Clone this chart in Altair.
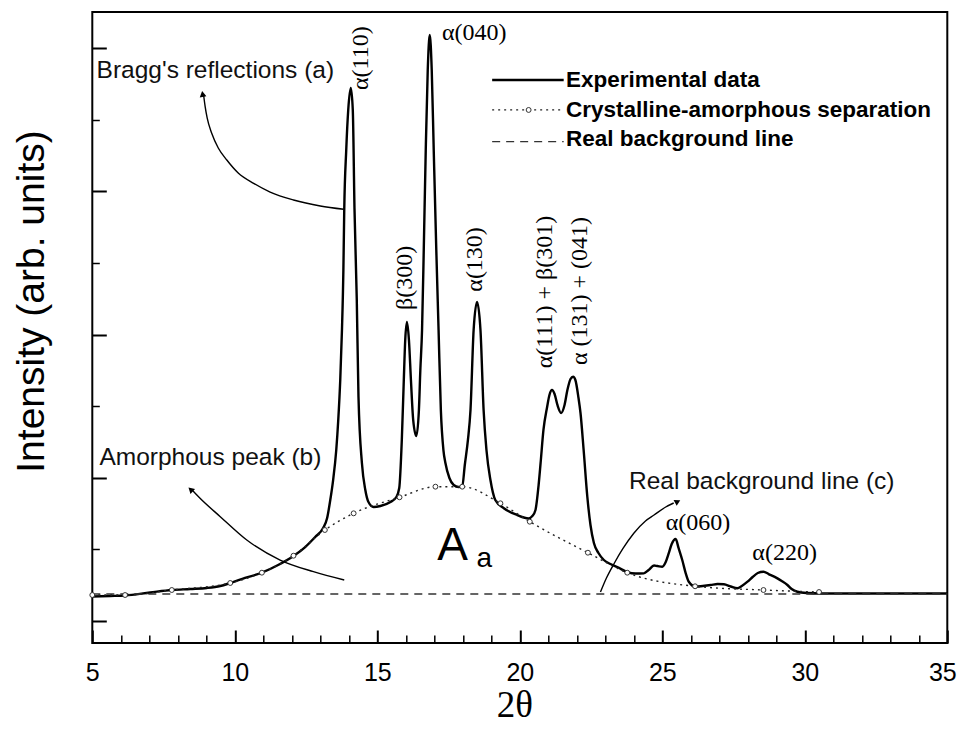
import altair as alt
import pandas as pd

SANS = "Liberation Sans"
SERIF = "Liberation Serif"

# ---------------- data (2-theta in degrees, intensity in arb. units) ----------------
exp_theta = [5.00, 5.62, 6.15, 7.03, 7.79, 8.43, 9.02, 9.49, 9.84, 10.36,
             10.95, 11.52, 12.06, 12.47, 12.82, 13.10, 13.24, 13.35, 13.45, 13.56,
             13.63, 13.70, 13.76, 13.81, 13.84, 13.91, 13.98, 14.07, 14.14, 14.20,
             14.28, 14.34, 14.46, 14.58, 14.69, 14.87, 15.11, 15.46, 15.67, 15.77,
             15.86, 15.93, 15.98, 16.04, 16.11, 16.18, 16.26, 16.37, 16.46, 16.51,
             16.57, 16.63, 16.70, 16.77, 16.84, 16.91, 16.98, 17.07, 17.15, 17.23,
             17.32, 17.39, 17.53, 17.68, 17.85, 17.98, 18.07, 18.18, 18.27, 18.38,
             18.50, 18.62, 18.73, 18.83, 18.97, 19.14, 19.44, 19.91, 20.31, 20.44,
             20.55, 20.66, 20.73, 20.83, 20.96, 21.04, 21.13, 21.22, 21.32, 21.45,
             21.57, 21.67, 21.78, 21.87, 21.95, 22.06, 22.13, 22.24, 22.37, 22.48,
             22.60, 22.76, 22.95, 23.18, 23.42, 23.77, 24.06, 24.35, 24.52, 24.71,
             24.83, 25.00, 25.12, 25.23, 25.33, 25.47, 25.57, 25.70, 25.82, 25.93,
             26.17, 26.42, 26.70, 26.94, 27.16, 27.40, 27.63, 27.79, 27.99, 28.17,
             28.35, 28.55, 28.73, 29.04, 29.19, 29.39, 29.54, 29.74, 30.09, 30.56,
             31.61, 32.67, 35.00]
exp_int = [342, 349, 356, 398, 433, 447, 461, 489, 531, 601,
           675, 782, 908, 1033, 1173, 1299, 1438, 1690, 1969, 2388,
           2807, 3366, 4064, 4902, 5740, 6578, 7137, 7444, 7137, 5754,
           4483, 3128, 2207, 1830, 1662, 1592, 1606, 1662, 1732, 1857,
           2528, 3366, 3924, 4176, 3924, 3366, 2807, 2584, 2947, 3505,
           4064, 5181, 6578, 7695, 8184, 7695, 6578, 5181, 4064, 2947,
           2388, 2207, 1997, 1899, 1871, 1876, 2179, 2528, 2947, 4064,
           4455, 4064, 2947, 2388, 1969, 1690, 1574, 1480, 1434, 1466,
           1550, 1899, 2207, 2668, 2993, 3156, 3226, 3170, 3017, 2905,
           3017, 3226, 3380, 3412, 3366, 3114, 2905, 2388, 1732, 1341,
           1089, 950, 852, 796, 754, 684, 663, 666, 712, 775,
           768, 758, 824, 950, 1075, 1145, 1020, 852, 670, 549,
           479, 489, 503, 517, 513, 482, 457, 489, 549, 615,
           670, 689, 656, 596, 559, 503, 447, 409, 391, 384,
           384, 384, 384]

sep_theta = [5.00, 6.15, 7.79, 9.84, 10.95, 12.06, 13.16, 14.17, 15.78,
             17.04, 17.98, 19.32, 20.35, 22.39, 23.77, 26.15, 28.55, 30.50]
sep_int = [363, 363, 433, 531, 675, 912, 1271, 1504, 1728,
           1876, 1876, 1644, 1387, 954, 675, 485, 433, 405]

bg_theta = [5.0, 35.0]
bg_int = [377, 377]

x_major = [5, 10, 15, 20, 25, 30, 35]
x_minor = [v for v in range(6, 35) if v % 5 != 0]
y_major = [0, 2000, 4000, 6000, 8000]
y_minor = [1000, 3000, 5000, 7000]

# ---------------- annotations ----------------
peak_h_text = ["α(040)", "α(060)", "α(220)"]
peak_h_theta = [17.27, 25.12, 28.16]
peak_h_int = [8114, 1271, 852]

peak_v_text = ["α(110)", "β(300)", "α(130)", "α(111) + β(301)", "α (131) + (041)"]
peak_v_theta = [14.69, 16.22, 18.68, 21.14, 22.37]
peak_v_int = [7416, 4343, 4599, 3529, 3575]

note_text = ["Bragg's reflections (a)", "Amorphous peak (b)", "Real background line (c)"]
note_theta = [5.15, 5.25, 23.83]
note_int = [7579, 2179, 1839]

arrow_id = ["a"] * 12 + ["b"] * 7 + ["c"] * 9
arrow_theta = [13.82, 13.00, 12.06, 11.24, 10.66, 10.12, 9.72, 9.42, 9.19, 9.03, 8.96, 8.91,
               13.84, 12.76, 11.59, 10.42, 9.49, 8.78, 8.50,
               22.83, 23.04, 23.30, 23.61, 24.00, 24.41, 24.71, 25.12, 25.40]
arrow_int = [5750, 5796, 5880, 5991, 6113, 6257, 6438, 6606, 6811, 7025, 7183, 7332,
             573, 689, 852, 1131, 1457, 1714, 1830,
             405, 601, 796, 1006, 1225, 1397, 1480, 1592, 1648]
head_theta = [8.87, 8.45, 25.54]
head_int = [7360, 1837, 1669]
head_angle = [351, 313, 62]

area_text = ["A", "a"]
area_theta = [17.10, 18.48]
area_int = [852, 750]

legend_text = ["Experimental data", "Crystalline-amorphous separation", "Real background line"]
legend_label_int = [7454, 7043, 6638]
legend_line_int = [7556, 7137, 6694]
legend_x1, legend_x2, legend_label_x, legend_marker_x = 19.03, 21.54, 21.62, 20.31

# ---------------- frames ----------------
exp_df = pd.DataFrame({"t": exp_theta, "I": exp_int})
sep_df = pd.DataFrame({"t": sep_theta, "I": sep_int})
bg_df = pd.DataFrame({"t": bg_theta, "I": bg_int})
ph_df = pd.DataFrame({"txt": peak_h_text, "t": peak_h_theta, "I": peak_h_int})
pv_df = pd.DataFrame({"txt": peak_v_text, "t": peak_v_theta, "I": peak_v_int})
note_df = pd.DataFrame({"txt": note_text, "t": note_theta, "I": note_int})
arr_df = pd.DataFrame({"id": arrow_id, "t": arrow_theta, "I": arrow_int})
head_df = pd.DataFrame({"t": head_theta, "I": head_int, "ang": head_angle})
A_df = pd.DataFrame({"txt": area_text[:1], "t": area_theta[:1], "I": area_int[:1]})
a_df = pd.DataFrame({"txt": area_text[1:], "t": area_theta[1:], "I": area_int[1:]})
leg_df = pd.DataFrame({"row": [0, 1, 2], "x1": legend_x1, "x2": legend_x2,
                       "I": legend_line_int})
leg_txt_df = pd.DataFrame({"txt": legend_text, "t": legend_label_x, "I": legend_label_int})
leg_mk_df = pd.DataFrame({"t": [legend_marker_x], "I": [legend_line_int[1]]})

xs = alt.Scale(domain=[5, 35], nice=False, zero=False)
ys = alt.Scale(domain=[-307, 8505], nice=False, zero=False)

main_x_axis = alt.Axis(orient="bottom", values=x_major, format="d", ticks=False, tickSize=0,
                       domain=False, grid=False, labelFont=SANS, labelFontSize=25,
                       labelColor="black", labelPadding=17, labelFlush=False,
                       labelOffset={"condition": {"test": "datum.value == 35", "value": -5},
                                    "value": 0},
                       title="2θ", titleFont=SERIF, titleFontSize=37, titleFontWeight="normal",
                       titleColor="black", titleX=422, titleY=73, titleBaseline="alphabetic",
                       titleAlign="center")
main_y_axis = alt.Axis(orient="left", labels=False, ticks=False, tickSize=0, domain=False,
                       grid=False, title="Intensity (arb. units)", titleFont=SANS,
                       titleFontSize=39, titleFontWeight="normal", titleColor="black",
                       titleY=289, titlePadding=41)


def tick_axis(orient, vals, size, width):
    return alt.Axis(orient=orient, values=vals, labels=False, domain=False, grid=False,
                    ticks=True, tickSize=size, tickWidth=width, tickColor="black",
                    offset=-size, title=None)


def X(axis=None, field="t"):
    return alt.X(f"{field}:Q", scale=xs, axis=axis)


def Y(axis=None, field="I"):
    return alt.Y(f"{field}:Q", scale=ys, axis=axis)


background = alt.Chart(bg_df).mark_line(color="#333", strokeWidth=1.3, strokeDash=[8, 6]).encode(
    x=X(tick_axis("bottom", x_minor, 8, 1.5)), y=Y(tick_axis("left", y_minor, 7, 1.5)))

sep_line = alt.Chart(sep_df).mark_line(color="#222", strokeWidth=1.4, strokeDash=[2, 4],
                                       interpolate="monotone").encode(
    x=X(tick_axis("bottom", x_major, 13, 2)), y=Y(tick_axis("left", y_major, 14, 2)))

sep_pts = alt.Chart(sep_df).mark_point(shape="circle", fill="white", fillOpacity=1, opacity=1,
                                       stroke="#333", strokeWidth=1, size=24).encode(x=X(), y=Y())

exp_line = alt.Chart(exp_df).mark_line(color="black", strokeWidth=2.4,
                                       interpolate="monotone").encode(
    x=X(main_x_axis), y=Y(main_y_axis))

arrows = alt.Chart(arr_df).mark_line(color="black", strokeWidth=1.4,
                                     interpolate="monotone").encode(
    x=X(), y=Y(), detail="id:N")
heads = alt.Chart(head_df).mark_point(shape="triangle-up", filled=True, color="black",
                                      opacity=1, size=45).encode(
    x=X(), y=Y(), angle=alt.Angle("ang:Q", scale=None))

notes = alt.Chart(note_df).mark_text(font=SANS, fontSize=24.5, align="left",
                                     baseline="alphabetic", color="#111").encode(
    x=X(), y=Y(), text="txt:N")
peaks_h = alt.Chart(ph_df).mark_text(font=SERIF, fontSize=24, align="left",
                                     baseline="alphabetic", color="black").encode(
    x=X(), y=Y(), text="txt:N")
peaks_v = alt.Chart(pv_df).mark_text(font=SERIF, fontSize=24, align="left", angle=270,
                                     baseline="alphabetic", color="black").encode(
    x=X(), y=Y(), text="txt:N")
big_A = alt.Chart(A_df).mark_text(font=SANS, fontSize=46, align="left",
                                  baseline="alphabetic", color="black").encode(
    x=X(), y=Y(), text="txt:N")
small_a = alt.Chart(a_df).mark_text(font=SANS, fontSize=28, align="left",
                                    baseline="alphabetic", color="black").encode(
    x=X(), y=Y(), text="txt:N")

leg_solid = alt.Chart(leg_df).transform_filter("datum.row == 0").mark_rule(
    color="black", strokeWidth=2.4).encode(x=X(field="x1"), x2="x2:Q", y=Y())
leg_dot = alt.Chart(leg_df).transform_filter("datum.row == 1").mark_rule(
    color="#222", strokeWidth=1.3, strokeDash=[2, 4]).encode(x=X(field="x1"), x2="x2:Q", y=Y())
leg_dash = alt.Chart(leg_df).transform_filter("datum.row == 2").mark_rule(
    color="#333", strokeWidth=1.3, strokeDash=[8, 6]).encode(x=X(field="x1"), x2="x2:Q", y=Y())
leg_mk = alt.Chart(leg_mk_df).mark_point(shape="circle", fill="white", fillOpacity=1, opacity=1,
                                         stroke="#333", strokeWidth=1, size=24).encode(x=X(), y=Y())
leg_txt = alt.Chart(leg_txt_df).mark_text(font=SANS, fontSize=22.5, fontWeight="bold",
                                          align="left", baseline="alphabetic",
                                          color="black").encode(x=X(), y=Y(), text="txt:N")

chart = alt.layer(
    exp_line, background, sep_line, sep_pts, arrows, heads, notes, peaks_h, peaks_v,
    big_A, small_a, leg_solid, leg_dot, leg_dash, leg_mk, leg_txt
).resolve_scale(x="shared", y="shared").resolve_axis(
    x="independent", y="independent"
).properties(
    width=855, height=631,
    autosize=alt.AutoSizeParams(type="none"),
    padding={"left": 84.3, "top": 4, "right": 9.7, "bottom": 81},
    background="white",
).configure_view(stroke="black", strokeWidth=2)

chart.save("out.html", embed_options={"renderer": "svg", "actions": False})
